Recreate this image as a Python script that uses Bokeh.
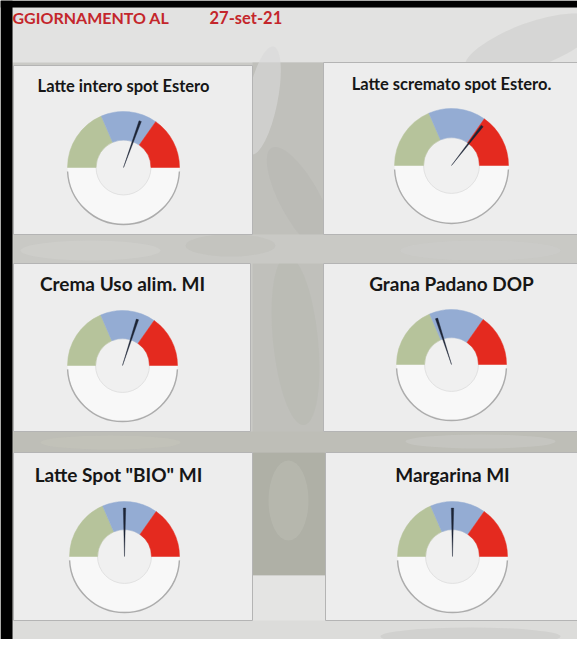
import math
from bokeh.plotting import figure
from bokeh.models import Range1d
from bokeh.embed import file_html
from bokeh.resources import INLINE
from bokeh.core.properties import value

# ---------------- data ----------------
header_label = "GGIORNAMENTO AL"
header_date = "27-set-21"
titles = ["Latte intero spot Estero", "Latte scremato spot Estero.",
          "Crema Uso alim. MI", "Grana Padano DOP",
          "Latte Spot \"BIO\" MI", "Margarina MI"]
segment_names = ["basso", "medio", "alto"]
segment_values = [37, 32.5, 30.5]          # share of the 0-100 scale
segment_colors = ["#b6c39b", "#94acd3", "#e42a1f"]
needle_values = [61, 71, 60, 40, 50, 50]   # position on the 0-100 scale
scale_max = 100

# ---------------- layout ----------------
W, H = 577, 639
def Y(py):
    return H - py

def rad(d):
    return math.radians(d)

p = figure(width=W, height=H, x_range=Range1d(0, W), y_range=Range1d(0, H),
           output_backend="svg", toolbar_location=None, min_border=0,
           x_axis_location=None, y_axis_location=None)
p.grid.visible = False
p.outline_line_color = None
p.background_fill_color = "#cacac6"
p.border_fill_color = "#cacac6"

def box(l, r, t, b, color, alpha=1.0):
    p.quad(left=[l], right=[r], top=[Y(t)], bottom=[Y(b)], fill_color=color, fill_alpha=alpha, line_color=None)

def blob(x, y, w, h, ang, color, alpha):
    p.ellipse(x=[x], y=[Y(y)], width=[w], height=[h], angle=[ang], fill_color=color, fill_alpha=alpha, line_color=None)

# background texture (blurred photo behind the panels)
box(12, 577, 7, 62, "#e2e2e1")
blob(530, 45, 140, 45, 0.35, "#c6c6c3", 0.4)
box(252, 323, 62, 452, "#c0c0bb")
blob(262, 100, 30, 110, -0.2, "#d9d9d8", 0.6)
blob(300, 200, 40, 120, 0.5, "#b3b3ae", 0.35)
blob(295, 340, 45, 170, 0.1, "#b3b4ad", 0.35)
box(12, 577, 234, 263, "#c9c9c5")
blob(90, 250, 140, 20, 0.0, "#d6d6d4", 0.35)
blob(230, 245, 90, 22, 0.0, "#b9b9b5", 0.35)
blob(480, 250, 160, 20, 0.0, "#d2d2d0", 0.3)
box(12, 577, 431, 452, "#bebeb7")
blob(110, 442, 140, 14, 0.0, "#c8c9bc", 0.4)
blob(480, 441, 150, 14, 0.0, "#cfcfcc", 0.4)
box(252, 325, 452, 575, "#afb0a6")
blob(288, 500, 40, 80, 0.0, "#c1c2b8", 0.4)
box(252, 325, 575, 639, "#e4e4e3")
box(12, 577, 620, 639, "#dcdcda")
blob(470, 636, 180, 18, 0.0, "#c4c4c2", 0.45)
box(0, 577, 0, 7, "#000000")
box(0, 12, 0, 639, "#000000")

# header
p.text(x=[12], y=[Y(17)], text=[header_label], text_font=value("Lato"), text_font_style="bold",
       text_font_size="16px", text_color="#c4262b", text_baseline="middle", text_align="left")
p.text(x=[209], y=[Y(17)], text=[header_date], text_font=value("Lato"), text_font_style="bold",
       text_font_size="16.5px", text_color="#c4262b", text_baseline="middle", text_align="left")

panels = [(13, 252, 65, 234), (323, 577, 62, 234),
          (13, 250, 263, 431), (323, 577, 263, 431),
          (13, 252, 452, 620), (325, 577, 452, 620)]
title_pos = [(123, 85, 16.5), (451, 83, 16.5), (122, 283, 19), (451, 283, 19), (118, 474, 19), (452, 474, 19)]
centers = [(123, 167, 56), (451, 165, 57), (122, 365, 55), (451, 364, 55), (124, 556, 55), (452, 556, 55)]
inner_ratio = 0.49
needle_ratio = 0.88

for i in range(6):
    l, r, t, b = panels[i]
    p.quad(left=[l], right=[r], top=[Y(t)], bottom=[Y(b)], fill_color="#ededed",
           line_color="#b4b4b4", line_width=1)
    tx, ty, fs = title_pos[i]
    p.text(x=[tx], y=[Y(ty)], text=[titles[i]], text_font=value("Lato"), text_font_style="bold",
           text_font_size=f"{fs}px", text_color="#161616", text_align="center", text_baseline="middle")

    cx, cy, R = centers[i]
    ri = R * inner_ratio
    # lower white half
    p.annular_wedge(x=[cx], y=[Y(cy)], inner_radius=ri, outer_radius=R, start_angle=rad(180), end_angle=rad(360),
                    fill_color="#f8f8f8", line_color=None)
    p.arc(x=[cx], y=[Y(cy) - 1], radius=R, start_angle=rad(183), end_angle=rad(357),
          line_color="#a4a4a4", line_width=1.4, line_alpha=0.9)
    # hole
    p.circle(x=[cx], y=[Y(cy)], radius=ri, fill_color="#f0f0f0", line_color="#e2e2e2", line_width=1)
    # coloured segments (from the left, 180 deg, going clockwise)
    acc = 0.0
    for v, c in zip(segment_values, segment_colors):
        a_start = 180 - (acc + v) / scale_max * 180
        a_end = 180 - acc / scale_max * 180
        p.annular_wedge(x=[cx], y=[Y(cy)], inner_radius=ri, outer_radius=R,
                        start_angle=rad(a_start), end_angle=rad(a_end),
                        fill_color=c, line_color=c, line_width=0.5)
        acc += v
    # needle
    a = 180 - needle_values[i] / scale_max * 180
    p.wedge(x=[cx], y=[Y(cy)], radius=R * needle_ratio, start_angle=rad(a - 1.4), end_angle=rad(a + 1.4),
            fill_color="#1c2435", line_color="#1c2435", line_width=0.4)

open("out.html", "w").write(file_html(p, INLINE))
